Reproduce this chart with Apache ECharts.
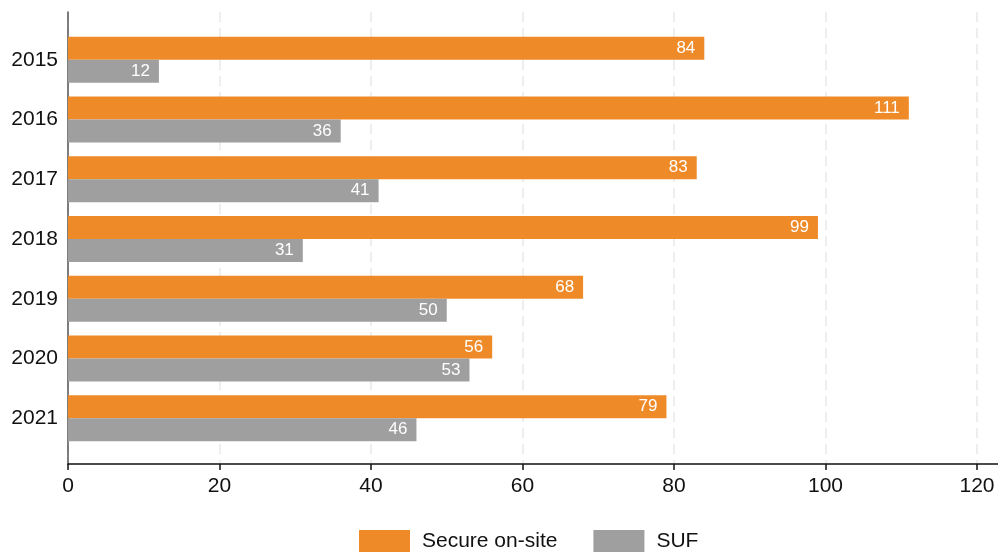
<!DOCTYPE html>
<html>
<head>
<meta charset="utf-8">
<script src="https://cdn.jsdelivr.net/npm/echarts@6/dist/echarts.min.js"></script>
<style>
  html, body { margin: 0; padding: 0; background: #fff; }
  #chart { width: 998px; height: 554px; }
</style>
</head>
<body>
<div id="chart"></div>
<script>
// Yearly counts by type
const years = ['2015', '2016', '2017', '2018', '2019', '2020', '2021'];
const secureOnSite = [84, 111, 83, 99, 68, 56, 79];
const suf = [12, 36, 41, 31, 50, 53, 46];
const xTicks = [0, 20, 40, 60, 80, 100, 120];

const FONT = '"Liberation Sans", Arial, Helvetica, sans-serif';
const ORANGE = '#ef8a28';
const GREY = '#9f9f9f';

const chart = echarts.init(document.getElementById('chart'), null, { renderer: 'canvas' });

const barLabel = {
  show: true,
  position: 'insideRight',
  distance: 9,
  color: '#ffffff',
  fontFamily: FONT,
  fontSize: 17
};

chart.setOption({
  animation: false,
  backgroundColor: '#ffffff',
  textStyle: { fontFamily: FONT },
  legend: {
    left: 354,
    top: 525,
    itemWidth: 51,
    itemHeight: 22,
    itemGap: 36,
    icon: 'rect',
    textStyle: { fontFamily: FONT, fontSize: 21, color: '#111', padding: [0, 0, 0, 7] },
    data: ['Secure on-site', 'SUF']
  },
  grid: [
    // frame: value ticks, dashed guides, vertical axis line
    { left: 68, right: 21, top: 12, bottom: 90 },
    // horizontal axis line running to the right edge
    { left: 68, right: 0, top: 12, bottom: 90 },
    // bars
    { left: 68, right: 21, top: 30, height: 418 }
  ],
  xAxis: [
    {
      gridIndex: 0, type: 'value', min: xTicks[0], max: xTicks[xTicks.length - 1], interval: 20,
      axisLine: { show: false },
      axisTick: { show: true, length: 6, lineStyle: { color: '#111', width: 1.5 } },
      axisLabel: { color: '#111', fontSize: 21, fontFamily: FONT, margin: 12 },
      splitLine: { show: true, lineStyle: { color: '#e9e9e9', width: 1.5, type: [10, 6] } }
    },
    {
      gridIndex: 1, type: 'value', min: 0, max: 1,
      axisLine: { show: true, lineStyle: { color: '#111', width: 1.5 } },
      axisTick: { show: false }, axisLabel: { show: false }, splitLine: { show: false }
    },
    {
      gridIndex: 2, type: 'value', min: xTicks[0], max: xTicks[xTicks.length - 1], interval: 20,
      show: false, splitLine: { show: false }
    }
  ],
  yAxis: [
    {
      gridIndex: 0, type: 'value', min: 0, max: 1,
      axisLine: { show: true, lineStyle: { color: '#555', width: 1.5 } },
      axisTick: { show: false }, axisLabel: { show: false }, splitLine: { show: false }
    },
    {
      gridIndex: 1, type: 'value', min: 0, max: 1, show: false, splitLine: { show: false }
    },
    {
      gridIndex: 2, type: 'category', data: years, inverse: true,
      axisLine: { show: false }, axisTick: { show: false },
      axisLabel: { color: '#111', fontSize: 21, fontFamily: FONT, margin: 10 }
    }
  ],
  series: [
    {
      name: 'Secure on-site', type: 'bar', xAxisIndex: 2, yAxisIndex: 2,
      data: secureOnSite, barWidth: 23, barGap: '0%',
      itemStyle: { color: ORANGE }, label: barLabel
    },
    {
      name: 'SUF', type: 'bar', xAxisIndex: 2, yAxisIndex: 2,
      data: suf, barWidth: 23, barGap: '0%',
      itemStyle: { color: GREY }, label: barLabel
    }
  ]
});
</script>
</body>
</html>
